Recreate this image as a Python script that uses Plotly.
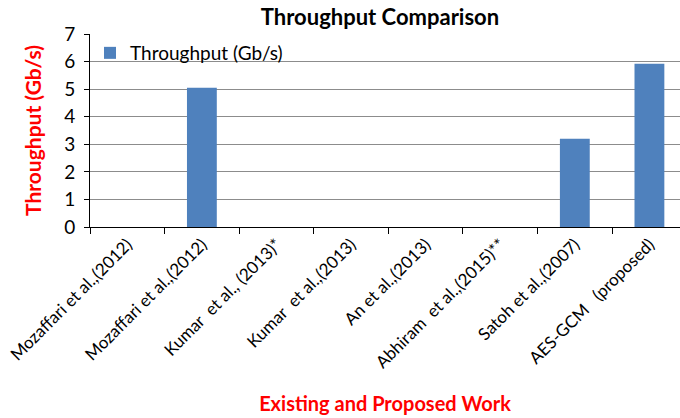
import plotly.graph_objects as go

categories = [
    "Mozaffari et al.,(2012)",
    "Mozaffari et al.,(2012)\u200b",
    "Kumar\u00a0 et al., (2013)*",
    "Kumar\u00a0 et al.,(2013)",
    "An et al.,(2013)",
    "Abhiram\u00a0 et al.,(2015)**",
    "Satoh et al.,(2007)",
    "AES-GCM\u00a0\u00a0 (proposed)",
]
throughput = [0, 5.05, 0, 0, 0, 0, 3.2, 5.92]
y_ticks = [0, 1, 2, 3, 4, 5, 6, 7]

FONT = "Lato"

fig = go.Figure()
fig.add_trace(go.Bar(
    x=categories, y=throughput, name="Throughput (Gb/s)",
    marker=dict(color="#4f81bd", line=dict(width=0)),
    width=0.4, showlegend=True,
))

fig.update_layout(
    width=680, height=418,
    margin=dict(l=90, r=0, t=34, b=191),
    paper_bgcolor="white", plot_bgcolor="white",
    font=dict(family=FONT, color="black", size=18),
    title=dict(text="<b>Throughput Comparison</b>", x=380/680, xanchor="center",
               y=1 - 17/418, yanchor="middle",
               font=dict(family=FONT, size=22, color="black")),
    showlegend=True,
    legend=dict(x=0.0, y=1.0, xanchor="left", yanchor="top",
                bgcolor="rgba(0,0,0,0)", font=dict(size=19, family=FONT),
                itemwidth=30),
    bargap=0.6,
)

fig.update_yaxes(
    range=[0, 7], tickvals=y_ticks, showgrid=True, gridcolor="#8c8c8c", gridwidth=1,
    showline=True, linecolor="black", linewidth=1, ticks="outside", ticklen=5,
    tickcolor="black", tickfont=dict(size=19, family=FONT), zeroline=False,
    ticklabelstandoff=5,
    title=dict(text="<b>Throughput (Gb/s)</b>", font=dict(color="red", size=21, family=FONT),
               standoff=16),
)
fig.update_xaxes(
    range=[-0.5, 7.41], showline=True, linecolor="black", linewidth=1,
    ticks="outside", ticklen=6, tickcolor="black", tickson="boundaries",
    tickangle=-45, tickfont=dict(size=17, family=FONT),
    title=dict(text="<b>Existing and Proposed Work</b>",
               font=dict(color="red", size=20, family=FONT), standoff=25),
)

fig.write_html("out.html")
